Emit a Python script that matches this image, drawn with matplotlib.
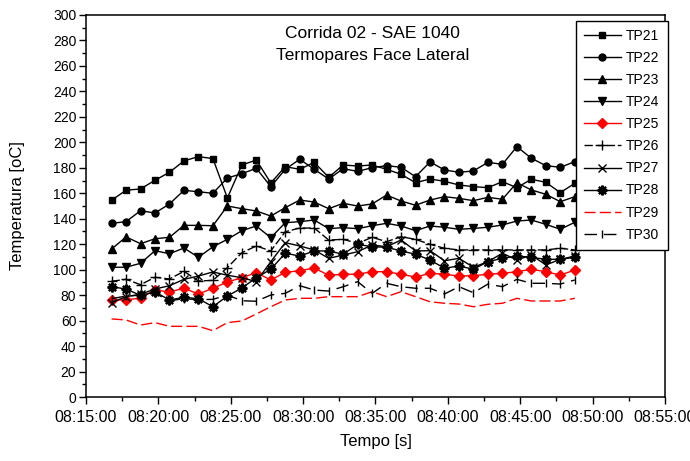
import pandas as pd
import matplotlib
matplotlib.use("Agg")
import matplotlib.pyplot as plt
import matplotlib.dates as mdates
from matplotlib.ticker import MultipleLocator

plt.rcParams['font.family'] = ['Liberation Sans', 'DejaVu Sans']

# one reading per minute
times = pd.date_range('2010-01-01 08:16:46', periods=33, freq='1min')

tp21 = [154.5, 162.4, 163.4, 170.2, 176.5, 185.4, 188.8, 187.2, 156.3, 182.2, 186.1, 168.1,
        180.9, 178.8, 184.3, 172.5, 182.2, 181.4, 182.2, 178.8, 174.9, 168.3, 171.2, 169.4, 166.5,
        165.2, 164.4, 169.1, 164.4, 171.0, 168.6, 160.5, 167.8]
tp22 = [136.4, 137.7, 146.3, 144.5, 151.6, 162.3, 161.2, 160.0, 172.0, 175.4, 179.6, 165.2,
        178.8, 186.7, 178.8, 171.2, 179.3, 177.2, 180.1, 181.7, 180.4, 173.0, 184.6, 178.3, 176.5,
        177.5, 184.3, 182.7, 196.6, 187.5, 181.7, 180.4, 184.8]
tp23 = [116.2, 125.7, 120.4, 124.3, 125.4, 134.8, 134.8, 134.5, 150.0, 147.9, 146.1, 142.1,
        148.7, 154.7, 153.1, 147.9, 152.1, 150.0, 151.6, 158.6, 153.9, 150.6, 154.7, 157.3, 156.0,
        154.2, 156.8, 155.3, 168.3, 162.6, 159.2, 153.4, 157.3]
tp24 = [101.9, 101.9, 105.0, 114.9, 112.5, 117.0, 109.7, 118.0, 123.8, 130.6, 134.3, 125.1,
        136.9, 137.7, 139.0, 132.2, 133.0, 132.2, 134.5, 136.4, 134.3, 130.6, 134.3, 133.3, 131.7,
        132.4, 133.3, 135.1, 138.2, 139.0, 135.6, 131.7, 137.2]
tp25 = [76.2, 76.2, 77.8, 84.0, 82.5, 85.4, 80.9, 85.4, 90.3, 93.7, 97.6, 91.9,
        97.9, 99.2, 101.3, 95.6, 96.4, 96.4, 98.4, 98.4, 96.4, 94.2, 97.1, 96.4, 95.0,
        95.3, 96.4, 97.1, 98.4, 100.3, 98.4, 95.8, 99.7]
tp26 = [90.9, 92.4, 88.2, 94.0, 92.7, 98.7, 91.1, 91.6, 101.6, 113.3, 118.6, 114.7,
        129.8, 132.7, 132.7, 123.3, 123.8, 120.7, 125.4, 122.0, 125.9, 123.8, 119.9, 116.8, 115.5,
        115.5, 115.5, 115.5, 115.5, 115.5, 115.5, 116.8, 115.5]
tp27 = [74.1, 78.8, 80.7, 84.8, 87.4, 92.4, 95.0, 98.2, 95.6, 93.7, 90.6, 106.3,
        121.2, 118.6, 115.5, 108.9, 111.5, 114.1, 119.4, 118.0, 123.3, 114.7, 114.9, 107.0, 108.9,
        101.9, 106.3, 112.9, 107.6, 111.5, 103.7, 108.1, 110.7]
tp28 = [86.6, 84.8, 79.8, 82.5, 76.2, 78.3, 77.2, 70.9, 79.3, 85.6, 93.7, 100.3,
        112.9, 110.7, 114.7, 114.7, 112.1, 119.9, 118.0, 117.6, 114.7, 112.1, 107.6, 101.1, 102.9,
        100.3, 106.3, 108.9, 110.7, 109.7, 108.1, 108.1, 109.7]
tp29 = [61.3, 60.5, 56.5, 58.4, 55.5, 55.5, 55.5, 52.1, 58.4, 59.7, 65.2, 70.9,
        76.2, 77.5, 77.5, 78.8, 78.8, 78.8, 82.7, 78.8, 82.7, 78.8, 74.8, 73.6, 73.0,
        70.9, 72.8, 73.6, 77.5, 75.4, 75.4, 75.4, 77.5]
tp30 = [77.2, 79.3, 79.9, 81.4, 75.6, 77.2, 76.4, 76.7, 80.1, 75.6, 75.2, 80.1,
        81.4, 87.4, 84.0, 83.2, 86.6, 90.6, 81.4, 89.3, 86.6, 85.4, 85.4, 80.9, 86.6,
        81.9, 88.7, 86.6, 92.4, 89.3, 89.3, 88.7, 91.9]

fig = plt.figure(figsize=(6.9, 4.61), dpi=100)
ax = fig.add_axes([86 / 690, 1 - 397 / 461, 579 / 690, 382 / 461])

k = dict(color='black', lw=1)
ax.plot(times, tp21, marker='s', ms=5, label='TP21', **k)
ax.plot(times, tp22, marker='o', ms=5, label='TP22', **k)
ax.plot(times, tp23, marker='^', ms=6, label='TP23', **k)
ax.plot(times, tp24, marker='v', ms=6, label='TP24', **k)
ax.plot(times, tp25, marker='D', ms=5, color='red', lw=1, label='TP25')
ax.plot(times, tp26, marker='+', ms=7, mew=1, ls=(0, (6, 2)), label='TP26', **k)
ax.plot(times, tp27, marker='x', ms=6, mew=1, label='TP27', **k)
ax.plot(times, tp28, marker=(8, 2, 0), ms=7, mew=1.6, label='TP28', **k)
ax.plot(times, tp29, color='red', lw=1, ls=(0, (8, 3)), label='TP29')
ax.plot(times, tp30, marker='|', ms=6, mew=1, ls=(0, (9, 5)), label='TP30', **k)

ax.set_xlim(pd.Timestamp('2010-01-01 08:15:00'), pd.Timestamp('2010-01-01 08:55:00'))
ax.set_ylim(0, 300)
ax.xaxis.set_major_locator(mdates.MinuteLocator(byminute=range(0, 60, 5)))
ax.xaxis.set_major_formatter(mdates.DateFormatter('%H:%M:%S'))
ax.set_xticks(pd.date_range('2010-01-01 08:17:30', periods=8, freq='5min'), minor=True)
ax.yaxis.set_major_locator(MultipleLocator(20))
ax.yaxis.set_minor_locator(MultipleLocator(10))

ax.tick_params(which='both', direction='out', top=False, right=False, width=1)
ax.tick_params(which='major', length=5)
ax.tick_params(which='minor', length=3)
ax.tick_params(axis='x', labelsize=11.5, pad=4)
ax.tick_params(axis='y', labelsize=10, pad=2)
for s in ax.spines.values():
    s.set_linewidth(1.1)

ax.set_xlabel('Tempo [s]', fontsize=12, labelpad=7)
ax.set_ylabel('Temperatura [oC]', fontsize=12, labelpad=20)

ax.text(0.495, 0.972, 'Corrida 02 - SAE 1040\nTermopares Face Lateral', transform=ax.transAxes,
        ha='center', va='top', fontsize=12.5, linespacing=1.6)

leg = ax.legend(loc='upper right', bbox_to_anchor=(1.005, 0.985), borderaxespad=0,
                fontsize=10, frameon=True, fancybox=False, framealpha=1, edgecolor='black',
                handlelength=2.6, labelspacing=0.58, handletextpad=0.4, borderpad=0.6)
leg.get_frame().set_linewidth(1)

fig.savefig('out.png', dpi=100)
